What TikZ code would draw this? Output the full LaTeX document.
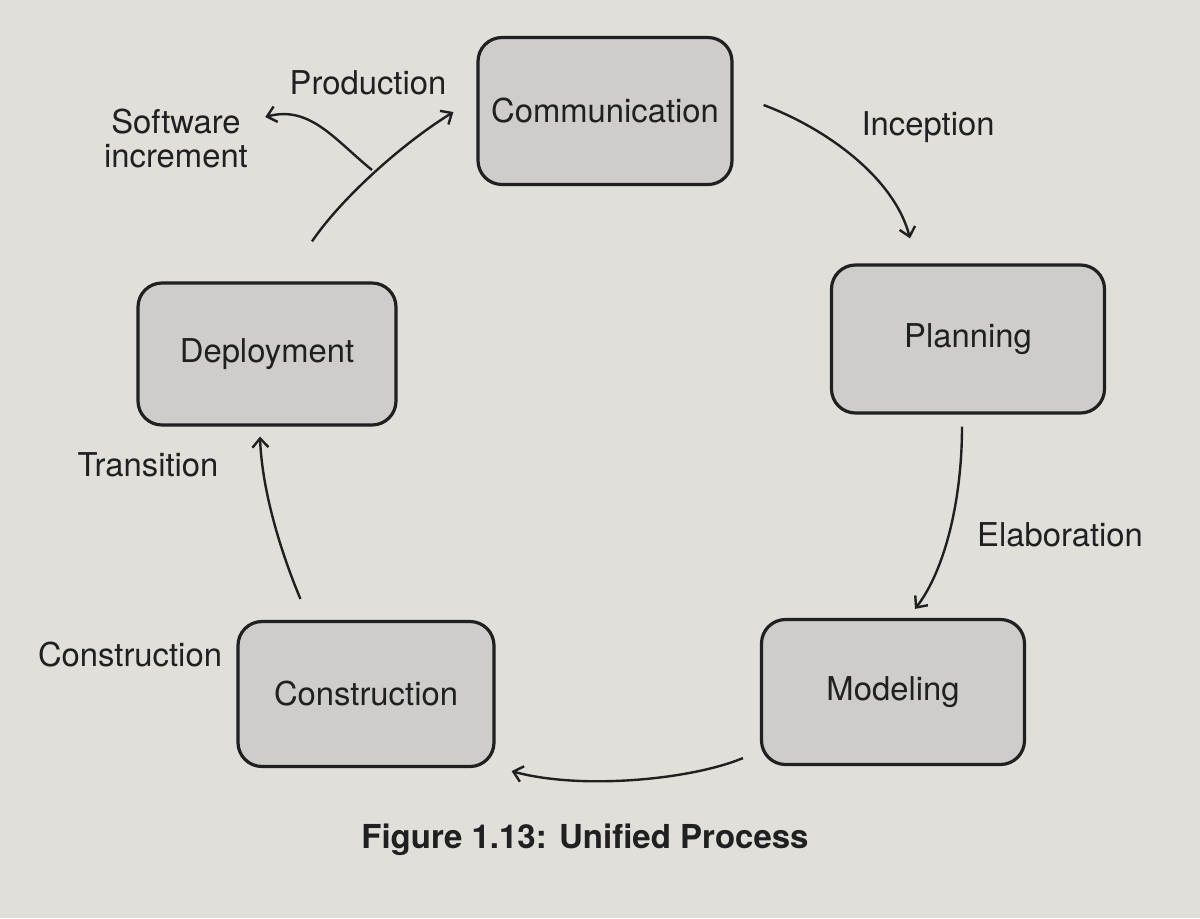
\documentclass[tikz,border=0pt]{standalone}
\usepackage{fontspec}
\setmainfont{TeX Gyre Heros}
\usetikzlibrary{arrows.meta,calc}
\definecolor{paper}{RGB}{224,223,218}
\definecolor{boxfill}{RGB}{206,205,201}
\definecolor{ink}{RGB}{32,32,32}
\tikzset{
  phase/.style={draw=ink, line width=1.6pt, fill=boxfill, rounded corners=12pt,
    minimum width=#1, minimum height=72pt, inner sep=0pt,
    font=\fontsize{16.4}{19}\selectfont, text=ink},
  lbl/.style={font=\fontsize{16.4}{19}\selectfont, text=ink, inner sep=0pt},
  flow/.style={draw=ink, line width=1.2pt, -{Straight Barb[length=4.5pt,width=8pt,line width=1.2pt]}}
}
\begin{document}
\begin{tikzpicture}[x=0.5pt,y=-0.5pt]
\fill[paper] (0,0) rectangle (1200,918);
\useasboundingbox (0,0) rectangle (1200,918);

\node[phase=127pt, minimum height=73.5pt] (comm) at (605,111) {Communication};
\node[phase=136.5pt, minimum height=74pt] (plan) at (968,339) {Planning};
\node[phase=131.5pt, minimum height=72.5pt] (model) at (893,692) {Modeling};
\node[phase=128pt, minimum height=72.5pt] (cons) at (366,694) {Construction};
\node[phase=129pt, minimum height=71pt] (deploy) at (267,354) {Deployment};

\node[lbl] (inception) at (928,127) {Inception};
\node[lbl] (elaboration) at (1060,535) {Elaboration};
\node[lbl] (transition) at (148,465) {Transition};
\node[lbl] (construction) at (130,655) {Construction};
\node[lbl] (production) at (368,83) {Production};
\node[lbl, align=center] (increment) at (176,138) {Software\\[-2pt]increment};
\node[font=\bfseries\fontsize{16.5}{19}\selectfont, text=ink, inner sep=0pt] (caption) at (585,840) {Figure 1.13: Unified Process};

% connector end points (shifts in pixel units)
\coordinate (c1s) at ($(comm.east)+(30,-6)$);
\coordinate (c1e) at ($(plan.north)+(-58,-25)$);
\coordinate (c2s) at ($(plan.south)+(-6,12)$);
\coordinate (c2e) at ($(model.north)+(22,-9)$);
\coordinate (c3s) at ($(model.south west)+(-17,-8)$);
\coordinate (c3e) at ($(cons.south east)+(16,3)$);
\coordinate (c4s) at ($(cons.north west)+(64,-21)$);
\coordinate (c4e) at ($(deploy.south)+(-7,10)$);
\coordinate (c5s) at ($(deploy.north)+(45,-40)$);
\coordinate (c5e) at ($(comm.west)+(-23,1)$);
\coordinate (junction) at (372,170);
\coordinate (c6e) at ($(increment.east)+(17,-21)$);

\draw[flow] (c1s) .. controls (830,130) and (895,180) .. (c1e);
\draw[flow] (c2s) .. controls (962,500) and (945,570) .. (c2e);
\draw[flow] (c3s) .. controls (690,780) and (580,790) .. (c3e);
\draw[flow] (c4s) .. controls (280,550) and (262,490) .. (c4e);
\draw[flow] (c5s) .. controls (340,200) and (400,145) .. (c5e);
\draw[flow] (junction) .. controls (335,140) and (310,105) .. (c6e);
\end{tikzpicture}
\end{document}
